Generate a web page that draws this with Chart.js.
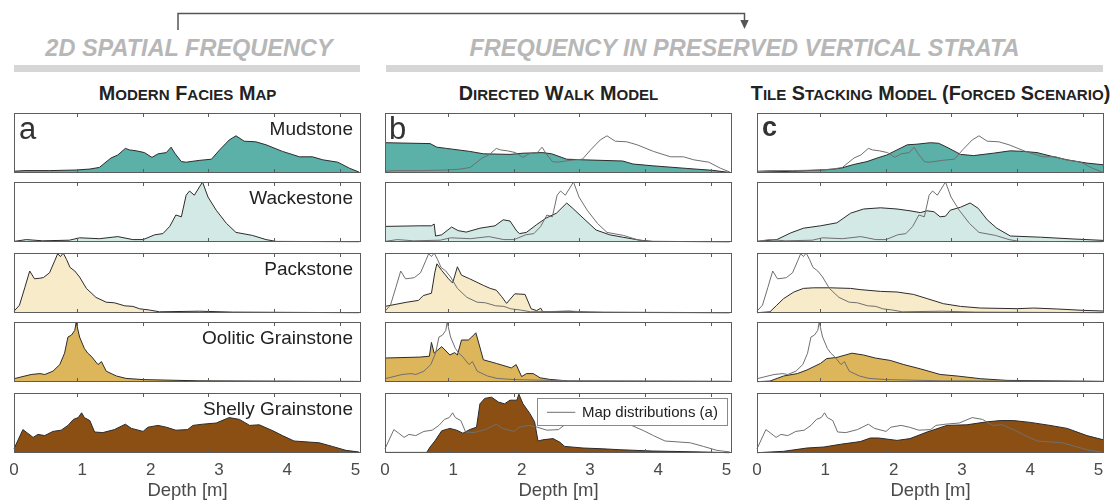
<!DOCTYPE html>
<html>
<head>
<meta charset="utf-8">
<script src="https://cdn.jsdelivr.net/npm/chart.js@4/dist/chart.umd.min.js"></script>
<style>
  html, body { margin: 0; padding: 0; background: #fff; }
  #fig { position: relative; width: 1110px; height: 502px; overflow: hidden;
         font-family: "Liberation Sans", Arial, Helvetica, sans-serif; }
  #fig canvas { position: absolute; }
  .hdr { position: absolute; width: 600px; text-align: center; white-space: nowrap;
         font-weight: bold; font-style: italic; font-size: 23.5px; line-height: 23.5px; color: #b7b7b7; }
  .bar { position: absolute; top: 65px; height: 6.5px; background: #d6d6d6; }
  .ttl { position: absolute; width: 500px; text-align: center; white-space: nowrap;
         font-weight: bold; font-size: 19.8px; line-height: 20px; color: #222; }
  .ttl span { line-height: 1; }
</style>
</head>
<body>
<div id="fig">
  <svg width="1110" height="40" style="position:absolute;left:0;top:0">
    <polyline points="178,30 178,13.5 744.5,13.5 744.5,21" fill="none" stroke="#555" stroke-width="1.5"/>
    <polygon points="740.3,20 748.7,20 744.5,29" fill="#555"/>
  </svg>
  <div class="hdr" style="left:-111px;top:36.6px">2D SPATIAL FREQUENCY</div>
  <div class="hdr" style="left:444.5px;top:36.6px">FREQUENCY IN PRESERVED VERTICAL STRATA</div>
  <div class="bar" style="left:14px;width:346px"></div>
  <div class="bar" style="left:386px;width:717px"></div>
</div>
<script>
// ---- facies names and colours ----
const FACIES = ['Mudstone', 'Wackestone', 'Packstone', 'Oolitic Grainstone', 'Shelly Grainstone'];
const FILL_COLORS = ['#5bb0a8', '#d3e9e6', '#f8ebca', '#ddb65b', '#8c4f13'];
const COLUMN_TITLES = ['Modern Facies Map', 'Directed Walk Model', 'Tile Stacking Model (Forced Scenario)'];
const PANEL_LETTERS = ['a', 'b', 'c'];
const DEPTH_TICKS = [0, 1, 2, 3, 4, 5];

// ---- (a) map distributions: [depth m, relative frequency] ----
const MAP_MUD = [[0,0.03],[0.16,0.04],[0.52,0.04],[0.91,0.05],[1.11,0.066],[1.25,0.093],[1.42,0.25],[1.52,0.30],[1.63,0.41],[1.69,0.385],[1.79,0.37],[1.91,0.34],[2.02,0.26],[2.11,0.32],[2.23,0.34],[2.30,0.43],[2.36,0.32],[2.45,0.19],[2.52,0.18],[2.71,0.21],[2.89,0.23],[3.01,0.385],[3.15,0.55],[3.25,0.62],[3.37,0.53],[3.54,0.52],[3.69,0.47],[3.93,0.36],[4.18,0.27],[4.37,0.27],[4.52,0.22],[4.74,0.18],[4.91,0.08],[5.05,0.016]];
const MAP_WACK = [[0,0.01],[0.18,0.04],[0.42,0.02],[0.81,0.03],[0.96,0.07],[1.25,0.055],[1.52,0.09],[1.74,0.04],[1.89,0.04],[2.06,0.12],[2.18,0.14],[2.28,0.26],[2.37,0.45],[2.45,0.42],[2.52,0.78],[2.57,0.85],[2.64,0.78],[2.76,1.0],[2.84,0.75],[2.96,0.53],[3.11,0.31],[3.25,0.16],[3.49,0.11],[3.69,0.04],[3.84,0.01],[5.05,0.005]];
const MAP_PACK = [[0,0.03],[0.08,0.13],[0.16,0.43],[0.23,0.70],[0.30,0.57],[0.38,0.58],[0.43,0.59],[0.52,0.67],[0.60,0.88],[0.64,0.99],[0.68,0.94],[0.72,1.0],[0.77,0.89],[0.82,0.76],[0.89,0.70],[0.96,0.60],[1.06,0.41],[1.20,0.26],[1.35,0.18],[1.47,0.17],[1.62,0.12],[1.74,0.11],[1.84,0.07],[1.98,0.05],[2.13,0.02],[2.71,0.03],[3.2,0.015],[5.05,0.005]];
const MAP_OOL = [[0,0.055],[0.25,0.125],[0.38,0.14],[0.45,0.125],[0.57,0.18],[0.67,0.29],[0.74,0.48],[0.79,0.75],[0.84,0.78],[0.89,0.86],[0.91,1.0],[0.96,0.75],[1.03,0.56],[1.08,0.48],[1.13,0.43],[1.23,0.29],[1.28,0.34],[1.35,0.18],[1.50,0.10],[1.64,0.06],[1.89,0.04],[2.71,0.02],[5.05,0.01]];
const MAP_SHELLY = [[0,0.07],[0.13,0.39],[0.20,0.33],[0.28,0.26],[0.35,0.31],[0.45,0.29],[0.57,0.36],[0.69,0.38],[0.79,0.46],[0.87,0.56],[0.94,0.59],[0.99,0.67],[1.03,0.59],[1.11,0.54],[1.18,0.35],[1.30,0.34],[1.47,0.39],[1.63,0.48],[1.72,0.41],[1.89,0.36],[1.96,0.43],[2.11,0.46],[2.23,0.43],[2.37,0.38],[2.54,0.39],[2.62,0.46],[2.76,0.48],[2.96,0.50],[3.15,0.59],[3.30,0.56],[3.45,0.46],[3.59,0.47],[3.79,0.37],[3.93,0.29],[4.10,0.20],[4.47,0.17],[4.66,0.11],[4.86,0.044],[5.05,0.017]];

// ---- (b) directed walk model ----
const WALK_MUD = [[0,0.505],[0.66,0.49],[0.76,0.43],[0.90,0.41],[1.24,0.36],[1.44,0.32],[1.83,0.31],[2.02,0.33],[2.31,0.34],[2.44,0.32],[2.66,0.23],[2.90,0.22],[3.48,0.20],[3.63,0.15],[3.92,0.12],[4.41,0.077],[4.80,0.044],[5.04,0.01]];
const WALK_WACK = [[0,0.26],[0.51,0.27],[0.68,0.27],[0.72,0.30],[0.74,0.10],[0.83,0.12],[0.975,0.25],[1.07,0.19],[1.19,0.165],[1.39,0.23],[1.61,0.27],[1.73,0.37],[1.83,0.35],[1.93,0.18],[1.97,0.14],[2.07,0.16],[2.22,0.29],[2.36,0.40],[2.51,0.48],[2.66,0.65],[2.75,0.56],[2.90,0.40],[3.09,0.20],[3.29,0.12],[3.48,0.08],[3.73,0.03],[3.92,0.01],[5.04,0.005]];
const WALK_PACK = [[0,0.11],[0.32,0.18],[0.49,0.21],[0.56,0.29],[0.68,0.33],[0.73,0.68],[0.76,0.82],[0.83,0.71],[0.93,0.57],[0.99,0.50],[1.06,0.77],[1.12,0.63],[1.24,0.57],[1.44,0.46],[1.54,0.41],[1.63,0.38],[1.71,0.27],[1.78,0.16],[1.90,0.32],[2.05,0.31],[2.14,0.07],[2.22,0.04],[2.28,0.08],[2.31,0.02],[2.70,0.03],[2.85,0.01],[5.04,0.005]];
const WALK_OOL = [[0,0.40],[0.51,0.415],[0.65,0.43],[0.68,0.66],[0.72,0.48],[0.83,0.59],[0.95,0.45],[1.02,0.49],[1.06,0.45],[1.12,0.70],[1.22,0.70],[1.27,0.75],[1.33,0.82],[1.36,0.70],[1.44,0.37],[1.63,0.31],[1.85,0.235],[1.92,0.29],[2.00,0.09],[2.07,0.14],[2.17,0.14],[2.27,0.07],[2.41,0.044],[2.70,0.016],[5.04,0.01]];
const WALK_SHELLY = [[0,0.01],[0.61,0.01],[0.66,0.10],[0.73,0.20],[0.83,0.37],[0.95,0.41],[1.05,0.38],[1.14,0.33],[1.24,0.39],[1.34,0.43],[1.39,0.82],[1.46,0.91],[1.56,0.93],[1.66,0.85],[1.75,0.82],[1.83,0.88],[1.93,0.88],[1.96,0.98],[2.02,0.82],[2.12,0.66],[2.19,0.52],[2.24,0.20],[2.31,0.22],[2.46,0.24],[2.56,0.18],[2.63,0.11],[2.90,0.083],[3.19,0.07],[3.43,0.055],[3.92,0.033],[4.65,0.017],[5.04,0.005]];

// ---- (c) tile stacking model, forced scenario ----
const TILE_MUD = [[0,0.016],[0.49,0.027],[1.02,0.055],[1.22,0.077],[1.41,0.14],[1.61,0.19],[1.76,0.25],[1.90,0.30],[2.05,0.385],[2.20,0.47],[2.34,0.48],[2.54,0.505],[2.66,0.495],[2.78,0.43],[2.98,0.31],[3.17,0.29],[3.46,0.33],[3.71,0.37],[3.90,0.36],[4.10,0.34],[4.29,0.285],[4.54,0.22],[4.83,0.165],[5.07,0.137]];
const TILE_WACK = [[0,0.01],[0.29,0.04],[0.49,0.15],[0.68,0.23],[0.93,0.27],[1.17,0.32],[1.37,0.48],[1.56,0.55],[1.81,0.57],[2.05,0.55],[2.24,0.52],[2.39,0.49],[2.49,0.52],[2.59,0.505],[2.68,0.42],[2.76,0.43],[2.83,0.53],[2.98,0.58],[3.12,0.65],[3.24,0.56],[3.37,0.37],[3.51,0.23],[3.71,0.10],[4.15,0.08],[4.64,0.05],[5.07,0.027]];
const TILE_PACK = [[0,0.005],[0.19,0.02],[0.29,0.13],[0.39,0.24],[0.54,0.35],[0.68,0.41],[0.83,0.42],[1.07,0.42],[1.37,0.41],[1.51,0.39],[1.81,0.36],[2.05,0.35],[2.29,0.31],[2.49,0.24],[2.73,0.155],[2.98,0.11],[3.27,0.083],[3.81,0.072],[4.05,0.083],[4.39,0.067],[4.78,0.044],[5.07,0.033]];
const TILE_OOL = [[0,0.005],[0.19,0.016],[0.39,0.10],[0.59,0.14],[0.73,0.20],[0.93,0.31],[1.02,0.39],[1.17,0.41],[1.39,0.48],[1.56,0.45],[1.73,0.40],[1.95,0.36],[2.15,0.29],[2.39,0.22],[2.68,0.126],[2.93,0.10],[3.27,0.055],[3.66,0.027],[5.07,0.01]];
const TILE_SHELLY = [[0,0.005],[0.39,0.028],[0.73,0.083],[0.98,0.10],[1.22,0.145],[1.51,0.19],[1.66,0.25],[1.78,0.25],[2.05,0.21],[2.24,0.24],[2.49,0.35],[2.78,0.46],[3.07,0.47],[3.37,0.52],[3.56,0.54],[3.76,0.54],[4.00,0.51],[4.29,0.46],[4.54,0.41],[4.83,0.29],[5.07,0.22]];

const MAP_SERIES = [MAP_MUD, MAP_WACK, MAP_PACK, MAP_OOL, MAP_SHELLY];
const WALK_SERIES = [WALK_MUD, WALK_WACK, WALK_PACK, WALK_OOL, WALK_SHELLY];
const TILE_SERIES = [TILE_MUD, TILE_WACK, TILE_PACK, TILE_OOL, TILE_SHELLY];
const COLUMN_SERIES = [MAP_SERIES, WALK_SERIES, TILE_SERIES];

// ---- layout ----
const X_MAX = 5.08;
const PANEL_W = 347, PANEL_H = 60, PAD = 6, AXIS_H = 49;
const COL_LEFT = [14, 385, 757];
const ROW_TOP = [113, 182, 253, 322, 393];
const FONT = '"Liberation Sans", Arial, Helvetica, sans-serif';
const fig = document.getElementById('fig');

// column titles in small capitals
function smallCaps(el, text, big, small) {
  let run = '', runSmall = null;
  const flush = () => {
    if (!run) return;
    const s = document.createElement('span');
    s.style.fontSize = (runSmall ? small : big) + 'px';
    s.textContent = runSmall ? run.toUpperCase() : run;
    el.appendChild(s);
    run = '';
  };
  for (const ch of text) {
    const isSmall = ch >= 'a' && ch <= 'z';
    if (runSmall !== null && isSmall !== runSmall) flush();
    runSmall = isSmall;
    run += ch;
  }
  flush();
}
COLUMN_TITLES.forEach((t, c) => {
  const d = document.createElement('div');
  d.className = 'ttl';
  d.style.left = (COL_LEFT[c] + PANEL_W / 2 - 250) + 'px';
  d.style.top = (100 - 16.9) + 'px';
  smallCaps(d, t, 19.8, 15.1);
  fig.appendChild(d);
});

// frame, inward tick marks, facies names, panel letters and legend
const panelDecor = {
  id: 'panelDecor',
  afterDatasetsDraw(chart, args, opts) {
    const { ctx, chartArea: a } = chart;
    const xt = chart.scales.xt;
    ctx.save();
    if (opts.legend) {
      const lx = a.right - 5 - 190, ly = a.top + 5.3, lw = 190, lh = 26.7;
      ctx.fillStyle = '#fff';
      ctx.fillRect(lx, ly, lw, lh);
      ctx.strokeStyle = '#8a8a8a';
      ctx.lineWidth = 1;
      ctx.strokeRect(Math.round(lx) + 0.5, Math.round(ly) + 0.5, Math.round(lw), Math.round(lh));
      ctx.beginPath();
      ctx.strokeStyle = '#6f6f6f';
      ctx.moveTo(lx + 10, ly + 14); ctx.lineTo(lx + 38.3, ly + 14);
      ctx.stroke();
      ctx.fillStyle = '#222';
      ctx.font = '15px ' + FONT;
      ctx.textBaseline = 'alphabetic';
      ctx.textAlign = 'left';
      ctx.fillText(opts.legend, lx + 45, ly + 19);
    }
    ctx.strokeStyle = '#5c5c5c';
    ctx.lineWidth = 1;
    ctx.strokeRect(a.left + 0.5, a.top + 0.5, a.width - 1, a.height - 1);
    ctx.beginPath();
    for (let v = 1; v <= 5; v++) {
      const px = Math.round(xt.getPixelForValue(v)) + 0.5;
      ctx.moveTo(px, a.top); ctx.lineTo(px, a.top + 4);
      ctx.moveTo(px, a.bottom); ctx.lineTo(px, a.bottom - 4);
    }
    ctx.stroke();
    ctx.fillStyle = '#222';
    ctx.textBaseline = 'alphabetic';
    if (opts.name) {
      ctx.font = '19px ' + FONT;
      ctx.textAlign = 'right';
      ctx.fillText(opts.name, a.right - 8, a.top + 22);
    }
    if (opts.letter) {
      ctx.fillStyle = '#333';
      ctx.textAlign = 'left';
      if (opts.letter === 'c') {
        ctx.font = 'bold 27px ' + FONT;
        ctx.fillText(opts.letter, a.left + 5, a.top + 23);
      } else {
        ctx.font = '31px ' + FONT;
        ctx.fillText(opts.letter, a.left + (opts.letter === 'a' ? 5 : 4), a.top + 26.3);
      }
    }
    ctx.restore();
  }
};

const toXY = arr => arr.map(([x, y]) => ({ x, y }));

for (let c = 0; c < 3; c++) {
  for (let r = 0; r < 5; r++) {
    const bottomRow = r === 4;
    const cv = document.createElement('canvas');
    const w = PANEL_W + 2 * PAD;
    const h = bottomRow ? PAD + PANEL_H + AXIS_H : PANEL_H + 2 * PAD;
    cv.width = w; cv.height = h;
    cv.style.left = (COL_LEFT[c] - PAD) + 'px';
    cv.style.top = (ROW_TOP[r] - PAD) + 'px';
    cv.style.width = w + 'px'; cv.style.height = h + 'px';
    fig.appendChild(cv);

    const datasets = [];
    if (c > 0) {
      datasets.push({
        label: 'Map distributions (a)', data: toXY(MAP_SERIES[r]), fill: false,
        borderColor: '#6f6f6f', borderWidth: 1, pointRadius: 0, tension: 0, clip: 3
      });
    }
    datasets.push({
      label: FACIES[r], data: toXY(COLUMN_SERIES[c][r]), fill: 'origin',
      backgroundColor: FILL_COLORS[r], borderColor: '#2b2b2b', borderWidth: 1,
      pointRadius: 0, tension: 0, clip: 3
    });

    new Chart(cv, {
      type: 'line',
      data: { datasets },
      options: {
        responsive: false, animation: false, events: [],
        devicePixelRatio: 1,
        layout: { autoPadding: false, padding: { left: PAD, right: PAD, top: PAD, bottom: bottomRow ? 0 : PAD } },
        plugins: {
          legend: { display: false }, tooltip: { enabled: false },
          panelDecor: {
            name: c === 0 ? FACIES[r] : null,
            letter: r === 0 ? PANEL_LETTERS[c] : null,
            legend: (c === 1 && bottomRow) ? 'Map distributions (a)' : null
          }
        },
        scales: {
          x: {
            type: 'linear', position: 'bottom', min: 0, max: X_MAX,
            display: bottomRow,
            grid: { display: false, drawTicks: false },
            border: { display: false },
            afterBuildTicks: s => { s.ticks = DEPTH_TICKS.map(value => ({ value })); },
            afterFit: s => {
              if (bottomRow) s.height = AXIS_H;
              s.paddingLeft = 0; s.paddingRight = 0;
            },
            ticks: { color: '#4a4a4a', padding: 7, font: { family: FONT, size: 17 }, maxRotation: 0,
                     callback: v => String(v) },
            title: { display: true, text: 'Depth [m]', color: '#4a4a4a',
                     font: { family: FONT, size: 18.5 }, padding: { top: 0, bottom: 0 } }
          },
          xt: { type: 'linear', axis: 'x', position: 'bottom', display: false, min: 0.05, max: 5.314 },
          y: { type: 'linear', min: 0, max: 1, display: false }
        }
      },
      plugins: [panelDecor]
    });
  }
}
</script>
</body>
</html>
